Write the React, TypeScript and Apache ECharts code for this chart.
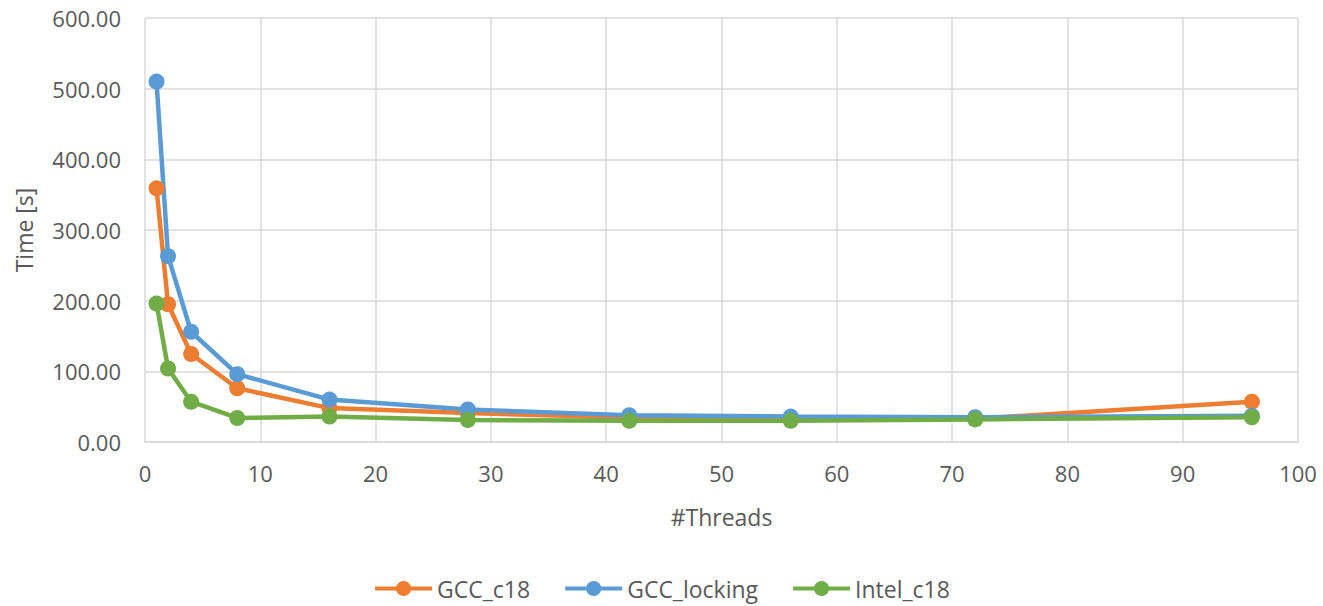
import React, { useEffect, useRef } from "react";
import * as echarts from "echarts";

const threads = [1, 2, 4, 8, 16, 28, 42, 56, 72, 96];
const gccC18 = [359, 195, 124.5, 76, 48, 41, 34.5, 33, 33, 57];
const gccLocking = [510, 263, 156, 96, 60, 46, 38, 36, 35, 37];
const intelC18 = [196, 104, 57, 34, 36, 31, 30, 30, 32, 35];

const seriesNames = ["GCC_c18", "GCC_locking", "Intel_c18"];
const seriesColors = ["#ED7D31", "#5B9BD5", "#70AD47"];
const seriesValues = [gccC18, gccLocking, intelC18];

const FONT = "'Open Sans', 'Liberation Sans', sans-serif";
const TEXT = "#595959";

export default function App() {
  const ref = useRef<HTMLDivElement>(null);
  useEffect(() => {
    if (!ref.current) return;
    const chart = echarts.init(ref.current, undefined, { renderer: "svg" });
    chart.setOption({
      animation: false,
      backgroundColor: "#ffffff",
      textStyle: { fontFamily: FONT, color: TEXT },
      grid: { left: 145, right: 25, top: 18, bottom: 164 },
      legend: {
        bottom: 1,
        left: "center",
        itemWidth: 57,
        itemHeight: 19,
        itemGap: 33,
        lineStyle: { width: 4 },
        textStyle: { fontSize: 23, color: TEXT, fontFamily: FONT },
        data: seriesNames,
      },
      xAxis: {
        type: "value",
        min: 0,
        max: 100,
        interval: 10,
        name: "#Threads",
        nameLocation: "middle",
        nameGap: 63,
        nameTextStyle: { fontSize: 23, color: TEXT, fontFamily: FONT },
        axisLine: { show: true, lineStyle: { color: "#d9d9d9", width: 1.5 } },
        axisTick: { show: false },
        axisLabel: { fontSize: 22, color: TEXT, margin: 20, fontFamily: FONT },
        splitLine: { show: true, lineStyle: { color: "#d9d9d9", width: 1.5 } },
      },
      yAxis: {
        type: "value",
        min: 0,
        max: 600,
        interval: 100,
        name: "Time [s]",
        nameLocation: "middle",
        nameGap: 110,
        nameRotate: 90,
        nameTextStyle: { fontSize: 23, color: TEXT, fontFamily: FONT },
        axisLine: { show: false },
        axisTick: { show: false },
        axisLabel: {
          fontSize: 22,
          color: TEXT,
          margin: 24,
          fontFamily: FONT,
          formatter: (v: number) => v.toFixed(2),
        },
        splitLine: { show: true, lineStyle: { color: "#d9d9d9", width: 1.5 } },
      },
      series: seriesNames.map((name, i) => ({
        name,
        type: "line",
        data: threads.map((t, j) => [t, seriesValues[i][j]]),
        color: seriesColors[i],
        symbol: "circle",
        symbolSize: 16,
        lineStyle: { width: 4.5, color: seriesColors[i] },
        itemStyle: { color: seriesColors[i] },
      })),
    });
    return () => chart.dispose();
  }, []);
  return (
    <div
      ref={ref}
      style={{ position: "fixed", left: 0, top: 0, width: 1323, height: 606 }}
    />
  );
}
